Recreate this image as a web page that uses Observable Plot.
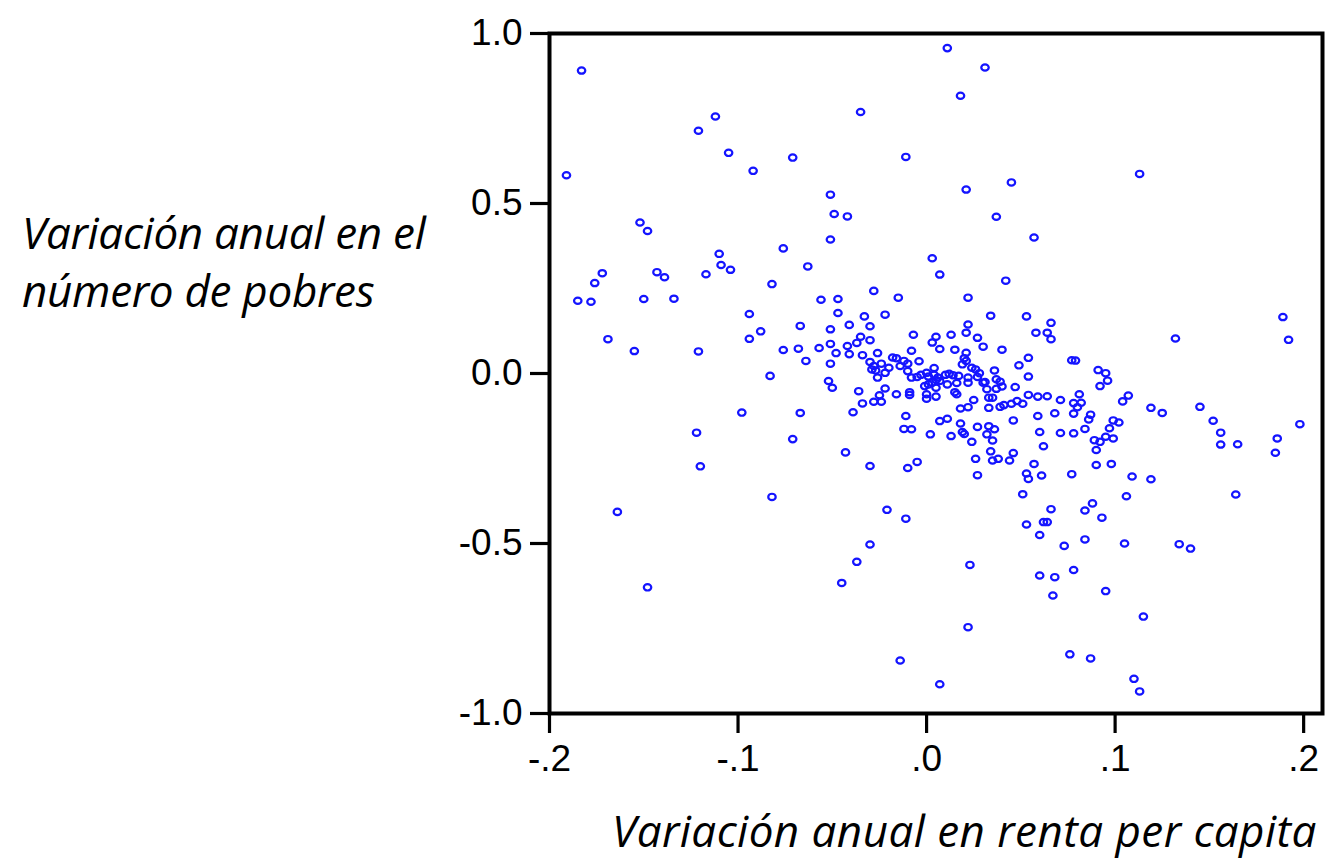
<!DOCTYPE html>
<html><head><meta charset="utf-8">
<script src="https://cdn.jsdelivr.net/npm/d3@7"></script>
<script src="https://cdn.jsdelivr.net/npm/@observablehq/plot@0.6"></script>
<style>
body{margin:0;background:#fff;}
#wrap{position:relative;width:1326px;height:864px;overflow:hidden;background:#fff;}
#chart{position:absolute;left:0;top:0;}
.ttl{position:absolute;font-family:"Open Sans",sans-serif;font-style:italic;font-size:44px;line-height:58px;color:#000;white-space:nowrap;}
</style></head><body>
<div id="wrap"><div id="chart"></div>
<div class="ttl" id="ytitle" style="left:22px;top:203px;letter-spacing:-0.3px"></div>
<div class="ttl" id="xtitle" style="left:612px;top:801px;letter-spacing:0.45px"></div>
</div>
<script>
// Titles
const yTitleLines = ["Variación anual en el", "número de pobres"];
const xTitle = "Variación anual en renta per capita";

// Axis ticks
const xTicks = [-0.2, -0.1, 0, 0.1, 0.2];
const yTicks = [-1, -0.5, 0, 0.5, 1];

// Annual change in per-capita income (x) and in number of poor (y)
const xValues = [
  -0.183,-0.112,-0.121,-0.105,-0.092,-0.071,-0.191,-0.152,-0.148,-0.110,
  -0.076,0.011,0.031,0.018,-0.035,-0.011,-0.051,0.045,0.021,-0.049,
  -0.042,0.037,-0.051,0.057,0.003,0.113,-0.172,-0.176,-0.143,-0.139,
  -0.117,-0.109,-0.104,-0.063,-0.082,-0.185,-0.178,-0.150,-0.134,-0.094,
  -0.088,-0.094,-0.067,-0.169,-0.155,-0.121,-0.076,-0.068,-0.064,-0.083,
  -0.098,-0.067,-0.122,-0.071,-0.120,-0.164,-0.082,-0.148,0.051,-0.021,
  -0.011,0.066,0.053,0.062,0.064,0.060,0.073,-0.030,-0.037,-0.045,
  0.023,0.060,0.068,0.067,0.022,-0.014,0.007,0.077,0.109,0.119,
  0.106,0.164,0.088,0.084,0.093,0.084,0.105,0.134,0.140,0.078,
  0.095,0.115,0.076,0.087,0.110,0.113,0.189,0.192,0.132,0.077,
  0.079,0.091,0.095,0.096,0.092,0.071,0.081,0.078,0.082,0.080,
  0.107,0.104,0.119,0.125,0.145,0.087,0.078,0.086,0.099,0.102,
  0.152,0.198,0.071,0.078,0.084,0.097,0.156,0.089,0.092,0.095,
  0.099,0.090,0.156,0.165,0.186,0.185,0.090,0.098,0.007,0.042,
  -0.028,-0.015,0.022,-0.056,-0.047,-0.047,-0.033,-0.022,0.034,0.053,
  0.066,-0.041,-0.030,-0.051,0.022,-0.007,0.013,0.021,0.058,0.064,
  0.066,0.005,0.003,0.027,-0.035,-0.030,-0.037,-0.051,-0.057,-0.042,
  0.007,0.015,0.030,0.040,-0.008,-0.048,-0.041,-0.034,-0.026,0.021,
  -0.051,-0.030,-0.028,-0.024,-0.018,-0.016,-0.012,-0.010,-0.014,-0.004,
  0.020,0.021,0.019,0.024,0.026,0.049,0.054,-0.029,-0.027,-0.020,
  -0.010,0.004,0.036,-0.026,-0.022,-0.008,-0.005,-0.003,0.000,0.001,
  0.004,0.006,0.010,0.012,0.014,0.017,0.022,0.027,0.028,0.037,
  0.039,0.031,0.030,0.054,-0.052,-0.050,-0.036,-0.022,-0.009,-0.009,
  -0.001,0.001,0.003,0.005,0.005,0.000,0.000,0.005,0.007,0.011,
  0.016,0.022,0.015,0.016,0.032,0.037,0.040,0.033,0.035,0.039,
  0.041,0.045,0.048,0.047,0.051,0.054,0.059,0.064,0.025,0.022,
  0.018,0.033,-0.016,-0.025,-0.028,-0.024,-0.034,-0.039,-0.011,-0.012,
  -0.008,0.002,0.007,0.011,0.018,0.013,0.019,0.020,0.027,0.033,
  0.036,0.032,0.024,0.035,0.046,0.059,0.068,0.060,0.062,0.034,
  0.046,0.026,0.035,0.038,0.044,0.057,-0.043,-0.030,-0.010,-0.005,
  0.027,0.053,0.054,0.061
];
const yValues = [
  0.891,0.756,0.714,0.649,0.596,0.635,0.583,0.444,0.419,0.352,
  0.368,0.957,0.900,0.817,0.769,0.637,0.526,0.562,0.541,0.469,
  0.462,0.461,0.394,0.400,0.339,0.587,0.295,0.266,0.298,0.283,
  0.292,0.319,0.305,0.315,0.263,0.214,0.211,0.219,0.220,0.175,
  0.124,0.102,0.140,0.101,0.066,0.065,0.069,0.073,0.037,-0.007,
  -0.115,-0.116,-0.174,-0.193,-0.273,-0.407,-0.363,-0.629,-0.355,-0.401,
  -0.427,-0.399,-0.444,-0.437,-0.437,-0.475,-0.507,-0.503,-0.554,-0.616,
  -0.563,-0.594,-0.599,-0.653,-0.746,-0.844,-0.914,-0.296,-0.303,-0.311,
  -0.361,-0.356,-0.382,-0.403,-0.424,-0.488,-0.500,-0.502,-0.515,-0.578,
  -0.640,-0.715,-0.826,-0.838,-0.898,-0.935,0.166,0.099,0.103,0.039,
  0.038,0.010,0.001,-0.021,-0.037,-0.078,-0.061,-0.087,-0.086,-0.099,
  -0.065,-0.082,-0.101,-0.116,-0.098,-0.121,-0.118,-0.135,-0.138,-0.144,
  -0.139,-0.149,-0.175,-0.176,-0.163,-0.161,-0.174,-0.196,-0.201,-0.186,
  -0.191,-0.225,-0.209,-0.208,-0.191,-0.233,-0.269,-0.266,0.291,0.273,
  0.243,0.223,0.223,0.217,0.219,0.178,0.168,0.173,0.170,0.168,
  0.149,0.143,0.139,0.130,0.144,0.114,0.114,0.120,0.120,0.120,
  0.101,0.108,0.091,0.105,0.108,0.098,0.090,0.087,0.075,0.081,
  0.072,0.070,0.079,0.070,0.067,0.060,0.057,0.054,0.060,0.061,
  0.029,0.034,0.022,0.029,0.047,0.045,0.037,0.029,0.022,0.036,
  0.045,0.037,0.027,0.017,0.012,0.024,0.046,0.012,0.009,0.017,
  0.007,0.016,0.009,-0.012,0.002,-0.012,-0.010,-0.004,0.002,-0.009,
  -0.004,-0.012,-0.004,-0.001,-0.005,-0.007,-0.012,-0.010,0.001,-0.017,
  -0.024,-0.025,-0.027,-0.009,-0.022,-0.042,-0.052,-0.044,-0.055,-0.063,
  -0.037,-0.032,-0.027,-0.042,-0.019,-0.061,-0.074,-0.068,-0.022,-0.032,
  -0.028,-0.027,-0.055,-0.061,-0.046,-0.045,-0.038,-0.071,-0.071,-0.098,
  -0.093,-0.089,-0.081,-0.040,-0.089,-0.063,-0.068,-0.067,-0.078,-0.099,
  -0.103,-0.101,-0.061,-0.064,-0.083,-0.083,-0.088,-0.114,-0.125,-0.163,
  -0.164,-0.179,-0.140,-0.133,-0.147,-0.184,-0.172,-0.178,-0.157,-0.155,
  -0.164,-0.179,-0.201,-0.197,-0.138,-0.125,-0.117,-0.172,-0.214,-0.229,
  -0.234,-0.251,-0.256,-0.251,-0.256,-0.266,-0.232,-0.272,-0.278,-0.260,
  -0.299,-0.294,-0.310,-0.300
];

const points = xValues.map((x, i) => ({x, y: yValues[i]}));

// slightly wide ellipse marker (the source image is stretched horizontally)
const ellipse = {
  draw(context, size) {
    const r = Math.sqrt(size / Math.PI);
    const rx = r * 1.1, ry = r * 0.93, k = 0.5523;
    context.moveTo(rx, 0);
    context.bezierCurveTo(rx, ry * k, rx * k, ry, 0, ry);
    context.bezierCurveTo(-rx * k, ry, -rx, ry * k, -rx, 0);
    context.bezierCurveTo(-rx, -ry * k, -rx * k, -ry, 0, -ry);
    context.bezierCurveTo(rx * k, -ry, rx, -ry * k, rx, 0);
    context.closePath();
  }
};

const tickFont = '"Liberation Sans", Arial, sans-serif';

const chart = Plot.plot({
  width: 1326,
  height: 864,
  marginLeft: 549,
  marginRight: 4,
  marginTop: 33,
  marginBottom: 151,
  x: {domain: [-0.2, 0.21]},
  y: {domain: [-1, 1]},
  style: {fontFamily: tickFont, background: "white", overflow: "visible"},
  marks: [
    Plot.axisY({
      ticks: yTicks, tickFormat: d => d.toFixed(1), tickSize: 19, tickPadding: 8,
      fontSize: 37, fill: "#000", stroke: "#000", strokeWidth: 3.2, label: null
    }),
    Plot.axisX({
      ticks: xTicks, tickFormat: d => d.toFixed(1).replace("0.", "."), tickSize: 20, tickPadding: 11,
      fontSize: 37, fill: "#000", stroke: "#000", strokeWidth: 3.2, label: null
    }),
    Plot.dot(points, {x: "x", y: "y", r: 3.4, symbol: ellipse, fill: "none", stroke: "#1414ff", strokeWidth: 2.2}),
    Plot.frame({stroke: "#000", strokeWidth: 4})
  ]
});
document.getElementById("chart").appendChild(chart);
document.getElementById("ytitle").innerHTML = yTitleLines.join("<br>");
document.getElementById("xtitle").textContent = xTitle;
</script>
</body></html>
